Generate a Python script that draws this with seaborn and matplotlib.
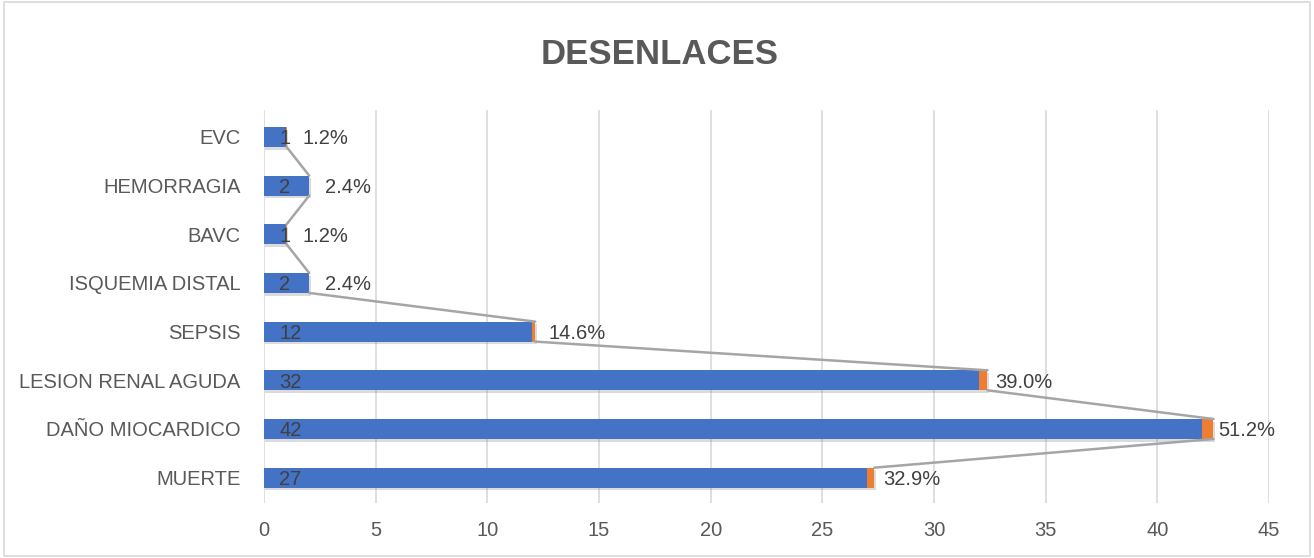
import matplotlib
matplotlib.use("Agg")
import matplotlib.pyplot as plt
import matplotlib.patheffects as pe
import seaborn as sns
import pandas as pd
import numpy as np

categories = ["EVC", "HEMORRAGIA", "BAVC", "ISQUEMIA DISTAL", "SEPSIS",
              "LESION RENAL AGUDA", "DAÑO MIOCARDICO", "MUERTE"]
counts = [1, 2, 1, 2, 12, 32, 42, 27]
percents = [1.2, 2.4, 1.2, 2.4, 14.6, 39.0, 51.2, 32.9]
xticks = [0, 5, 10, 15, 20, 25, 30, 35, 40, 45]

sns.set_theme(style="white")
plt.rcParams['font.family'] = ['Liberation Sans', 'DejaVu Sans']

df = pd.DataFrame({"cat": categories, "count": counts, "pct": percents})
df["total"] = df["count"] + df["pct"] / 100.0

fig = plt.figure(figsize=(13.14, 5.58), dpi=100)
ax = fig.add_axes([0.2009, 0.0986, 0.7649, 0.704])

shadow = [pe.SimplePatchShadow(offset=(1.0, -2.0), shadow_rgbFace="#7F7F7F", alpha=0.28), pe.Normal()]

sns.barplot(data=df, y="cat", x="total", color="#ED7D31", saturation=1, width=0.41,
            orient="h", ax=ax, order=categories)
n_orange = len(ax.patches)
sns.barplot(data=df, y="cat", x="count", color="#4472C4", saturation=1, width=0.41,
            orient="h", ax=ax, order=categories)
orange = ax.patches[:n_orange]
blue = ax.patches[n_orange:]
for p in orange:
    p.set_path_effects(shadow)
    p.set_edgecolor("none")
for p in blue:
    p.set_edgecolor("none")

# series lines
for k in range(len(orange) - 1):
    a, b = orange[k], orange[k + 1]
    ax.plot([a.get_width(), b.get_width()],
            [a.get_y() + a.get_height(), b.get_y()],
            color="#A5A5A5", lw=1.8, zorder=1)

# labels
for p, c in zip(blue, counts):
    yc = p.get_y() + p.get_height() / 2
    ax.text(0.68, yc + 0.04, f"{c}", va="center", ha="left", fontsize=14.5, color="#404040", zorder=5)
for p, pc in zip(blue, percents):
    yc = p.get_y() + p.get_height() / 2
    ax.text(p.get_width() + 0.74, yc + 0.04, f"{pc:.1f}%", va="center", ha="left",
            fontsize=14.5, color="#404040", zorder=5)

ax.set_xlim(0, 45)
ax.set_ylim(7.52, -0.55)
ax.set_xticks(xticks)
ax.set_xticklabels([str(t) for t in xticks])
ax.grid(axis="x", color="#D9D9D9", lw=1.2)
ax.set_axisbelow(True)
for s in ax.spines.values():
    s.set_visible(False)
ax.tick_params(axis="both", length=0, labelsize=14.5, labelcolor="#595959")
ax.tick_params(axis="x", pad=13)
ax.tick_params(axis="y", pad=17)
ax.set_xlabel("")
ax.set_ylabel("")

fig.text(0.502, 0.903, "DESENLACES", ha="center", va="center", fontsize=25,
         fontweight="bold", color="#595959")

border = plt.Rectangle((0.003, 0.003), 0.994, 0.994, transform=fig.transFigure,
                       fill=False, edgecolor="#D9D9D9", lw=1.2)
fig.patches.append(border)

fig.savefig("out.png", dpi=100, facecolor="white")
